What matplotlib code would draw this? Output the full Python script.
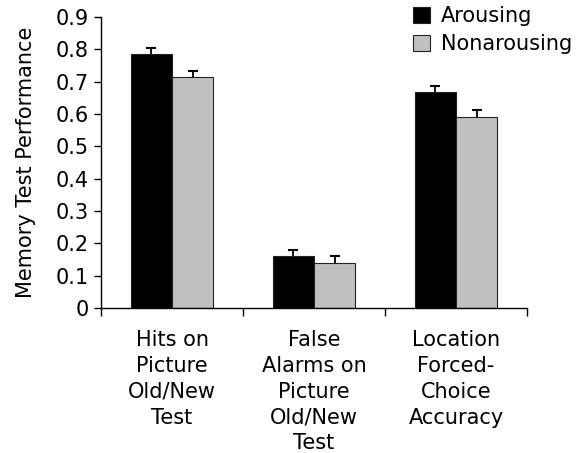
import matplotlib
matplotlib.use("Agg")
import matplotlib.pyplot as plt
import numpy as np

categories = ["Hits on\nPicture\nOld/New\nTest",
              "False\nAlarms on\nPicture\nOld/New\nTest",
              "Location\nForced-\nChoice\nAccuracy"]
series_names = ["Arousing", "Nonarousing"]
arousing = [0.785, 0.162, 0.668]
arousing_err = [0.018, 0.018, 0.020]
nonarousing = [0.714, 0.140, 0.592]
nonarousing_err = [0.020, 0.021, 0.020]
yticks = [0, 0.1, 0.2, 0.3, 0.4, 0.5, 0.6, 0.7, 0.8, 0.9]
ytick_labels = ["0", "0.1", "0.2", "0.3", "0.4", "0.5", "0.6", "0.7", "0.8", "0.9"]

FS = 15
plt.rcParams['font.family'] = ['DejaVu Sans']
fig = plt.figure(figsize=(5.85, 4.53), dpi=100)
ax = fig.add_axes([101/585, 1-308/453, (527-101)/585, (308-17)/453])

x = np.arange(len(categories))
w = 0.29
ax.bar(x - w/2, arousing, w, color="black", edgecolor="#222222", linewidth=0.8,
       label=series_names[0], zorder=2)
ax.bar(x + w/2, nonarousing, w, color="#c0c0c0", edgecolor="#222222", linewidth=0.8,
       label=series_names[1], zorder=2)
for xs, vals, errs in [(x - w/2, arousing, arousing_err), (x + w/2, nonarousing, nonarousing_err)]:
    vals = np.array(vals)
    errs = np.array(errs)
    ax.vlines(xs, vals, vals + errs, colors="black", linewidth=1.3, zorder=1)
    ax.plot(xs, vals + errs, linestyle="none", marker="_", markersize=7,
            markeredgewidth=1.5, color="black", zorder=3)

ax.set_xlim(-0.5, 2.5)
ax.set_ylim(0, 0.9)
ax.set_yticks(yticks)
ax.set_yticklabels(ytick_labels, fontsize=FS)
ax.set_xticks(x)
ax.set_xticklabels(categories, fontsize=FS, linespacing=1.36)
ax.tick_params(axis="x", length=0, pad=16)
ax.set_xticks([-0.5, 0.5, 1.5, 2.5], minor=True)
ax.tick_params(axis="x", which="minor", length=6, width=1, direction="out")
ax.tick_params(axis="y", length=5, width=1, direction="out", pad=4)
ax.spines["top"].set_visible(False)
ax.spines["right"].set_visible(False)
ax.spines["left"].set_linewidth(1)
ax.spines["bottom"].set_linewidth(1)
ax.set_ylabel("Memory Test Performance", fontsize=FS, labelpad=13.5)

leg = ax.legend(loc="upper left", bbox_to_anchor=(410/585, 1 - 3/453), bbox_transform=fig.transFigure,
                frameon=False, fontsize=FS, handlelength=0.8, handleheight=0.8,
                handletextpad=0.55, labelspacing=0.38, borderaxespad=0.0, borderpad=0.15)

fig.savefig("out.png", dpi=100)
